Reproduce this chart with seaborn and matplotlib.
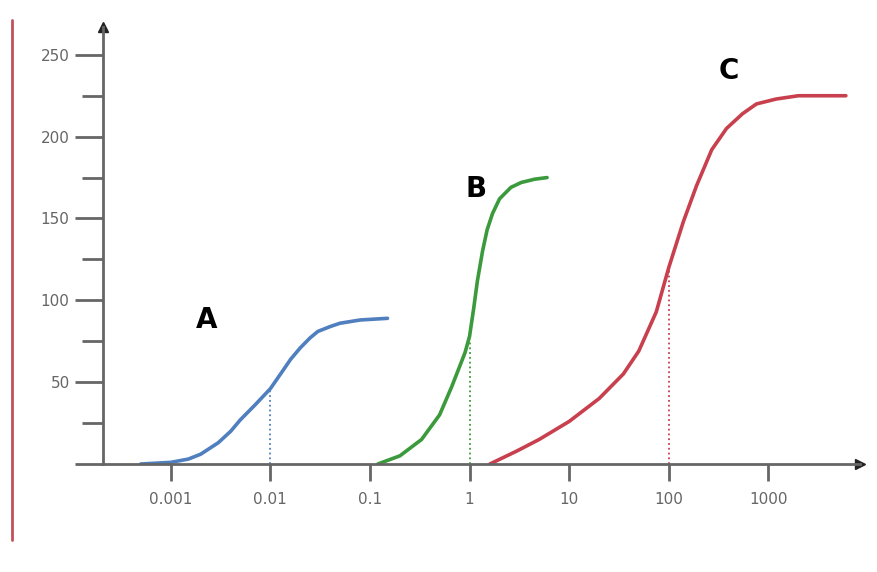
import matplotlib
matplotlib.use("Agg")
from matplotlib import pyplot as plt
from matplotlib.lines import Line2D
import seaborn as sns
import pandas as pd
import numpy as np

sns.set_style("white")
plt.rcParams['font.family'] = ['DejaVu Sans']

# dose-response curves
a_dose = [0.0005, 0.001, 0.0015, 0.002, 0.003, 0.004, 0.005, 0.007, 0.01, 0.013, 0.016, 0.02, 0.025, 0.03, 0.04, 0.05, 0.08, 0.15]
a_resp = [0, 1, 3, 6, 13, 20, 27, 36, 46, 56, 64, 71, 77, 81, 84, 86, 88, 89]
b_dose = [0.12, 0.2, 0.33, 0.5, 0.66, 0.8, 0.9, 1.0, 1.1, 1.2, 1.35, 1.5, 1.7, 2.0, 2.6, 3.3, 4.5, 6.0]
b_resp = [0, 5, 15, 30, 47, 60, 68, 78, 95, 112, 130, 143, 153, 162, 169, 172, 174, 175]
c_dose = [1.6, 3, 5, 10, 20, 35, 50, 75, 100, 140, 190, 270, 380, 550, 760, 1200, 2000, 6000]
c_resp = [0, 8, 15, 26, 40, 55, 69, 93, 120, 148, 170, 192, 205, 214, 220, 223, 225, 225]
ec50 = {'A': (0.01, 45), 'B': (1.0, 75), 'C': (100, 120)}
label_pos = {'A': (0.0023, 88), 'B': (1.15, 168), 'C': (400, 240)}
colors = {'A': '#4f7fbf', 'B': '#3b9a3b', 'C': '#c8404e'}
xticks = [0.001, 0.01, 0.1, 1, 10, 100, 1000]
xtick_labels = ['0.001', '0.01', '0.1', '1', '10', '100', '1000']

df = pd.concat([
    pd.DataFrame({'dose': a_dose, 'resp': a_resp, 'curve': 'A'}),
    pd.DataFrame({'dose': b_dose, 'resp': b_resp, 'curve': 'B'}),
    pd.DataFrame({'dose': c_dose, 'resp': c_resp, 'curve': 'C'}),
])

fig = plt.figure(figsize=(8.77, 5.72), dpi=100)
ax = fig.add_axes([103/877, 108/572, (860-103)/877, (545-108)/572])
sns.lineplot(data=df, x='dose', y='resp', hue='curve', palette=colors,
             linewidth=2.6, legend=False, ax=ax, sort=False)
ax.set_xscale('log')
ax.set_xlim(10**-3.68, 10**3.92)
ax.set_ylim(0, 267)
ax.set_xlabel('')
ax.set_ylabel('')

for k, (xv, yv) in ec50.items():
    ax.plot([xv, xv], [0, yv], ls=':', color=colors[k], lw=1.3)
for k, (xv, yv) in label_pos.items():
    ax.text(xv, yv, k, fontsize=20, fontweight='bold', ha='center', va='center', color='black')

gray = '#666666'
ax.set_xticks(xticks)
ax.set_xticklabels(xtick_labels)
ax.xaxis.set_minor_locator(matplotlib.ticker.NullLocator())
ax.set_yticks([0, 50, 100, 150, 200, 250])
ax.set_yticklabels(['', '50', '100', '150', '200', '250'])
ax.set_yticks([25, 75, 125, 175, 225], minor=True)
ax.tick_params(axis='y', which='major', length=20, width=2, color=gray,
               labelcolor=gray, labelsize=11, pad=4, left=True)
ax.tick_params(axis='y', which='minor', length=15, width=2, color=gray, left=True)
ax.tick_params(axis='x', which='major', length=12, width=2, color=gray,
               labelcolor=gray, labelsize=11, pad=8, bottom=True)
for s in ['top', 'right']:
    ax.spines[s].set_visible(False)
for s in ['left', 'bottom']:
    ax.spines[s].set_color(gray)
    ax.spines[s].set_linewidth(2)
ax.plot(1, 0, '>', color='#222222', ms=7, transform=ax.transAxes, clip_on=False)
ax.plot(0, 1, '^', color='#222222', ms=7, transform=ax.transAxes, clip_on=False)

fig.add_artist(Line2D([12/877, 12/877], [32/572, 552/572], color='#c0505a', lw=2))
fig.savefig('out.png', dpi=100)
